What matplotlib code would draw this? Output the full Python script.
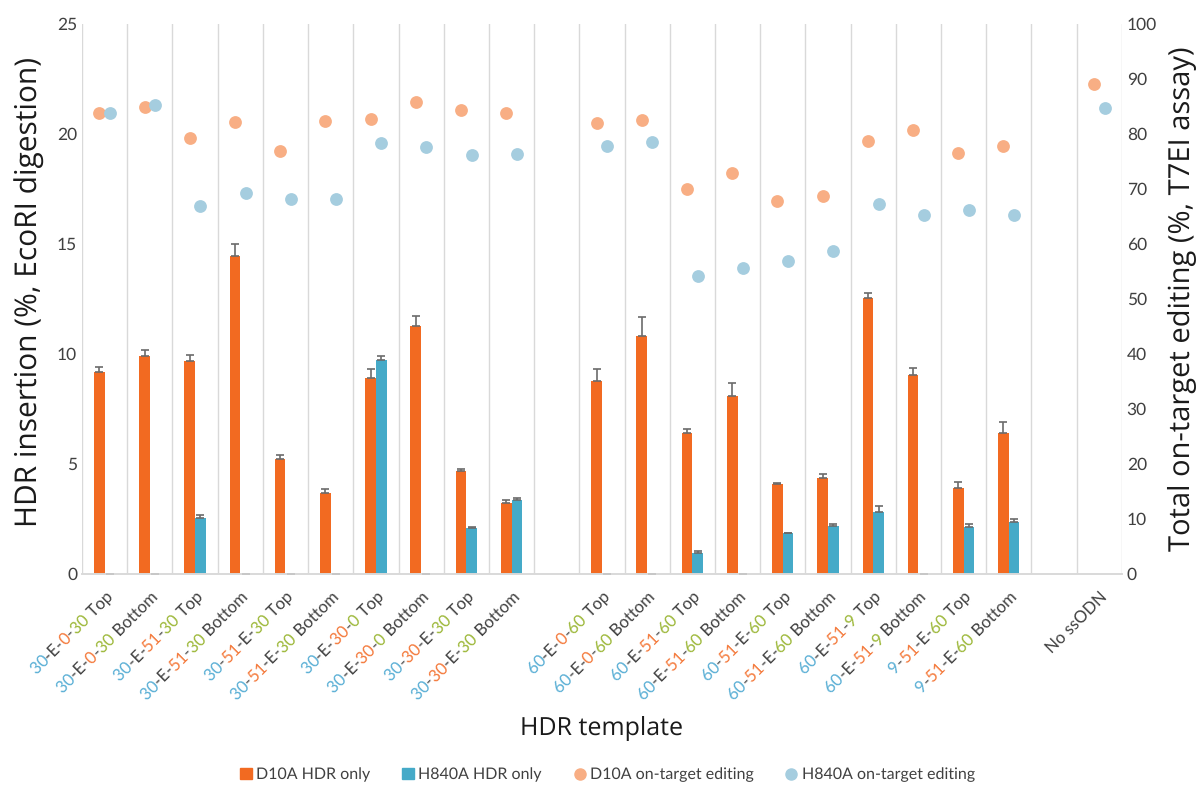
import numpy as np
import matplotlib
matplotlib.use("Agg")
import matplotlib.pyplot as plt
import matplotlib.transforms as mtransforms
from matplotlib.patches import Patch
from matplotlib.lines import Line2D

nan = np.nan

categories = [
    "30-E-0-30 Top", "30-E-0-30 Bottom", "30-E-51-30 Top", "30-E-51-30 Bottom",
    "30-51-E-30 Top", "30-51-E-30 Bottom", "30-E-30-0 Top", "30-E-30-0 Bottom",
    "30-30-E-30 Top", "30-30-E-30 Bottom", "",
    "60-E-0-60 Top", "60-E-0-60 Bottom", "60-E-51-60 Top", "60-E-51-60 Bottom",
    "60-51-E-60 Top", "60-51-E-60 Bottom", "60-E-51-9 Top", "60-E-51-9 Bottom",
    "9-51-E-60 Top", "9-51-E-60 Bottom", "", "No ssODN",
]

d10a_hdr = [9.20, 9.91, 9.70, 14.45, 5.23, 3.67, 8.89, 11.27, 4.68, 3.24, nan,
            8.78, 10.80, 6.41, 8.11, 4.07, 4.36, 12.56, 9.04, 3.90, 6.41, nan, nan]
d10a_err = [0.22, 0.27, 0.27, 0.55, 0.18, 0.18, 0.41, 0.46, 0.09, 0.14, nan,
            0.56, 0.90, 0.18, 0.58, 0.08, 0.20, 0.20, 0.32, 0.29, 0.50, nan, nan]
h840a_hdr = [0, 0, 2.56, 0, 0, 0, 9.73, 0, 2.09, 3.35, nan,
             0, 0, 0.96, 0, 1.87, 2.17, 2.83, 0, 2.16, 2.38, nan, nan]
h840a_err = [0, 0, 0.11, 0, 0, 0, 0.19, 0, 0.03, 0.09, nan,
             0, 0, 0.07, 0, 0.01, 0.11, 0.27, 0, 0.10, 0.11, nan, nan]

d10a_edit = [83.9, 85.0, 79.3, 82.2, 77.0, 82.3, 82.8, 85.9, 84.3, 83.8, nan,
             82.0, 82.5, 70.0, 73.0, 67.8, 68.7, 78.8, 80.8, 76.6, 77.9, nan, 89.1]
h840a_edit = [83.9, 85.3, 67.0, 69.2, 68.2, 68.1, 78.4, 77.6, 76.1, 76.4, nan,
              77.9, 78.5, 54.1, 55.7, 57.0, 58.7, 67.3, 65.3, 66.2, 65.3, nan, 84.8]

ORANGE = "#F26A21"
BLUE = "#45AAC8"
ORANGE_DOT = "#F8AE84"
BLUE_DOT = "#A5CDDF"
TXT = "#404040"
LBL_BLUE = "#5AAFD5"
LBL_ORANGE = "#F47A3C"
LBL_GREEN = "#9DB83A"

plt.rcParams["font.family"] = ["Lato", "DejaVu Sans"]
plt.rcParams["text.hinting"] = "no_hinting"


def label_parts(label):
    # numeric fields go blue, orange, green; E, hyphens and strand stay gray
    if " " not in label or not label[0].isdigit():
        return [(label, TXT)]
    template, strand = label.split(" ", 1)
    field_colors = [LBL_BLUE, LBL_ORANGE, LBL_GREEN]
    parts = []
    n = 0
    for i, tok in enumerate(template.split("-")):
        if i > 0:
            parts.append(("-", TXT))
        if tok.isdigit():
            parts.append((tok, field_colors[n]))
            n += 1
        else:
            parts.append((tok, TXT))
    parts.append((" " + strand, TXT))
    merged = []
    for t, c in parts:
        if merged and merged[-1][1] == c:
            merged[-1] = (merged[-1][0] + t, c)
        else:
            merged.append((t, c))
    return merged


fig = plt.figure(figsize=(11.96, 7.87), dpi=100)
ax = fig.add_axes([0.0686, 0.2706, 0.8694, 0.6989])
ax2 = ax.twinx()

x = np.arange(len(categories))
w = 0.236

ax.bar(x - w / 2, d10a_hdr, w, color=ORANGE, zorder=2)
ax.bar(x + w / 2, h840a_hdr, w, color=BLUE, zorder=2)
ekw = dict(fmt="none", ecolor="#6B6B6B", elinewidth=1.2, capsize=3, capthick=1.2, zorder=3)
ax.errorbar(x - w / 2, d10a_hdr, yerr=[np.zeros(len(x)), d10a_err], **ekw)
ax.errorbar(x + w / 2, h840a_hdr, yerr=[np.zeros(len(x)), h840a_err], **ekw)

ax2.scatter(x - w / 2, d10a_edit, s=85, color=ORANGE_DOT, zorder=3, linewidths=0)
ax2.scatter(x + w / 2, h840a_edit, s=85, color=BLUE_DOT, zorder=3, linewidths=0)

ax.set_xlim(-0.5, len(categories) - 0.5)
ax.set_ylim(0, 25)
ax2.set_ylim(0, 100)
ax.set_yticks(np.arange(0, 26, 5))
ax2.set_yticks(np.arange(0, 101, 10))
ax.set_xticks(x)
ax.set_xticklabels([])
ax.set_xticks(np.arange(-0.5, len(categories), 1), minor=True)
ax.grid(which="minor", axis="x", color="#D9D9D9", linewidth=1.0, zorder=0)
ax.tick_params(which="both", length=0, labelsize=12.5, colors=TXT)
ax2.tick_params(length=0, labelsize=12.5, colors=TXT)

for a in (ax, ax2):
    for side in ("left", "right", "top"):
        a.spines[side].set_visible(False)
    a.spines["bottom"].set_color("#D9D9D9")
    a.spines["bottom"].set_linewidth(1.2)

ax.set_ylabel("HDR insertion (%, EcoRI digestion)", fontsize=21.5, color="#1a1a1a",
              family=["Open Sans", "DejaVu Sans"])
ax.yaxis.set_label_coords(-0.036, 0.512)
ax2.set_ylabel("Total on-target editing (%, T7EI assay)", fontsize=21, color="#1a1a1a",
               family=["Open Sans", "DejaVu Sans"], labelpad=8)
fig.text(0.503, 0.067, "HDR template", fontsize=18, color="#1a1a1a", ha="center",
         family=["Open Sans", "DejaVu Sans"])

# multi-coloured rotated tick labels, pieces placed along the 45 degree baseline.
# every piece gets a leading space so all measured extents start at the pen origin
renderer = fig.canvas.get_renderer()
base = ax.get_xaxis_transform()
fs = 12
c45 = np.cos(np.pi / 4)


def text_width(s):
    tmp = fig.text(0, 0, s, fontsize=fs)
    wd = tmp.get_window_extent(renderer).width
    tmp.remove()
    return wd


for xi, lab in zip(x, categories):
    if not lab:
        continue
    parts = label_parts(lab)
    for i, (txt, col) in enumerate(parts):
        rest = "".join(p[0] for p in parts[i:])
        d = -text_width(" " + rest)
        tr = mtransforms.offset_copy(base, fig=fig, x=d * c45 + 9, y=d * c45 - 24,
                                     units="dots")
        ax.text(xi, 0, " " + txt, transform=tr, color=col, fontsize=fs, rotation=45,
                rotation_mode="anchor", ha="left", va="baseline", clip_on=False)

handles = [
    Patch(color=ORANGE, label="D10A HDR only"),
    Patch(color=BLUE, label="H840A HDR only"),
    Line2D([], [], marker="o", linestyle="none", markersize=8, color=ORANGE_DOT,
           label="D10A on-target editing"),
    Line2D([], [], marker="o", linestyle="none", markersize=8, color=BLUE_DOT,
           label="H840A on-target editing"),
]
fig.legend(handles=handles, loc="lower center", bbox_to_anchor=(0.508, -0.012), ncol=4,
           frameon=False, fontsize=11.5, handlelength=0.7, handleheight=0.7,
           handletextpad=0.3, columnspacing=2.0, labelcolor=TXT)

fig.savefig("out.png", dpi=100)
